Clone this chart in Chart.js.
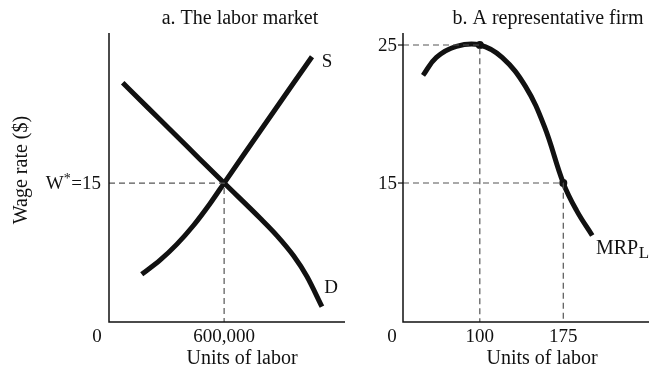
<!DOCTYPE html>
<html>
<head>
<meta charset="utf-8">
<script src="https://cdn.jsdelivr.net/npm/chart.js@4.4.1/dist/chart.umd.min.js"></script>
<style>
  html, body { margin: 0; padding: 0; background: #fff; overflow: hidden; }
  #wrap { position: relative; width: 653px; height: 372px; overflow: hidden; }
  #wrap canvas { position: absolute; left: 0; top: 0; }
</style>
</head>
<body>
<div id="wrap">
  <canvas id="market" width="653" height="372"></canvas>
  <canvas id="firm" width="653" height="372"></canvas>
</div>
<script>
// Panel a: labor market supply and demand
const supplyQty  = [170600, 266000, 353000, 440000, 527000, 600000, 701000, 788000, 875000, 962000, 1058000];
const supplyWage = [5.15, 6.68, 8.38, 10.42, 12.8, 15, 18.03, 20.62, 23.21, 25.8, 28.64];
const demandQty  = [71500, 205000, 339000, 470000, 600000, 788000, 875000, 962000, 1031000, 1110000];
const demandWage = [25.83, 23.09, 20.35, 17.66, 15, 11.2, 9.33, 7.15, 4.94, 1.65];
const eqQty = 600000;
const eqWage = 15;

// Panel b: marginal revenue product of labor for one firm
const firmQty = [49, 61, 79, 100, 120, 141, 158, 175, 187, 201];
const firmMrp = [22.8, 24.1, 24.9, 25, 24.1, 22, 19.1, 15, 13.0, 11.2];
const firmPeakQty = 100;
const firmPeakMrp = 25;
const firmHireQty = 175;

const FONT = '"Liberation Serif", "Times New Roman", serif';
const ink = '#111';
const dashCol = '#555';

function pts(xs, ys) {
  return xs.map((x, i) => ({ x: x, y: ys[i] }));
}

function curve(data, smooth) {
  const ds = {
    data: data,
    borderColor: ink,
    borderWidth: 5,
    pointRadius: 0,
    borderCapStyle: 'butt',
    fill: false,
    clip: false
  };
  if (smooth) ds.tension = 0.4;
  else ds.cubicInterpolationMode = 'monotone';
  return ds;
}

function guide(data) {
  return {
    data: data,
    borderColor: dashCol,
    borderWidth: 1.2,
    borderDash: [6, 4],
    pointRadius: 0,
    tension: 0,
    fill: false,
    clip: false
  };
}

function txt(ctx, s, x, y, align, size) {
  ctx.font = (size || 19) + 'px ' + FONT;
  ctx.textAlign = align || 'center';
  ctx.textBaseline = 'middle';
  ctx.fillStyle = ink;
  ctx.fillText(s, x, y);
}

// axes and labels are drawn by hand so the plot area can be placed exactly
const marketDecor = {
  id: 'marketDecor',
  afterDraw(chart) {
    const { ctx, chartArea: a, scales: { x, y } } = chart;
    ctx.save();
    ctx.strokeStyle = ink;
    ctx.lineWidth = 1.5;
    ctx.beginPath();
    ctx.moveTo(a.left, a.top);
    ctx.lineTo(a.left, a.bottom);
    ctx.lineTo(a.right, a.bottom);
    ctx.stroke();

    txt(ctx, 'a. The labor market', 240, 19, 'center', 20);
    txt(ctx, '0', 97, 337);
    txt(ctx, '600,000', x.getPixelForValue(eqQty), 337);
    txt(ctx, 'Units of labor', 242, 359, 'center', 20);

    // W* = 15 with a raised star
    const wy = y.getPixelForValue(eqWage);
    ctx.font = '19px ' + FONT;
    const rest = '=15';
    const wRest = ctx.measureText(rest).width;
    txt(ctx, rest, 101, wy + 1, 'right');
    txt(ctx, '*', 101 - wRest - 0.5, wy - 4, 'right', 14);
    ctx.font = '14px ' + FONT;
    const wStar = ctx.measureText('*').width;
    txt(ctx, 'W', 101 - wRest - wStar - 0.5, wy + 1, 'right');

    txt(ctx, 'S', 327, 62);
    txt(ctx, 'D', 331, 288);

    ctx.translate(22, 170);
    ctx.rotate(-Math.PI / 2);
    txt(ctx, 'Wage rate ($)', 0, 0, 'center', 20);
    ctx.restore();
  }
};

const firmDecor = {
  id: 'firmDecor',
  afterDraw(chart) {
    const { ctx, chartArea: a, scales: { x, y } } = chart;
    ctx.save();
    ctx.strokeStyle = ink;
    ctx.lineWidth = 1.5;
    ctx.beginPath();
    ctx.moveTo(a.left, a.top);
    ctx.lineTo(a.left, a.bottom);
    ctx.lineTo(a.right, a.bottom);
    ctx.stroke();

    // short ticks on the wage axis
    ctx.lineWidth = 1.2;
    [firmPeakMrp, eqWage].forEach(v => {
      const py = y.getPixelForValue(v);
      ctx.beginPath();
      ctx.moveTo(a.left - 5, py);
      ctx.lineTo(a.left, py);
      ctx.stroke();
      txt(ctx, String(v), a.left - 6, py + 1, 'right');
    });

    txt(ctx, 'b. A representative firm', 548, 19, 'center', 20);
    txt(ctx, '0', 392, 337);
    txt(ctx, String(firmPeakQty), x.getPixelForValue(firmPeakQty), 337);
    txt(ctx, String(firmHireQty), x.getPixelForValue(firmHireQty), 337);
    txt(ctx, 'Units of labor', 542, 359, 'center', 20);

    // MRP with subscript L, running off the right edge
    txt(ctx, 'MRP', 596, 249, 'left', 20);
    ctx.font = '20px ' + FONT;
    const w = ctx.measureText('MRP').width;
    txt(ctx, 'L', 596 + w + 0.5, 254, 'left', 17);
    ctx.restore();
  }
};

new Chart(document.getElementById('market'), {
  type: 'line',
  data: {
    datasets: [
      guide([{ x: 0, y: eqWage }, { x: eqQty, y: eqWage }, { x: eqQty, y: 0 }]),
      curve(pts(supplyQty, supplyWage)),
      curve(pts(demandQty, demandWage))
    ]
  },
  options: {
    responsive: false,
    animation: false,
    events: [],
    layout: { padding: { left: 109, right: 308, top: 33, bottom: 50 } },
    plugins: { legend: { display: false }, tooltip: { enabled: false } },
    scales: {
      x: { type: 'linear', min: 0, max: 1230000, display: false },
      y: { type: 'linear', min: 0, max: 31.2, display: false }
    }
  },
  plugins: [marketDecor]
});

new Chart(document.getElementById('firm'), {
  type: 'line',
  data: {
    datasets: [
      guide([{ x: 31, y: firmPeakMrp }, { x: firmPeakQty, y: firmPeakMrp }, { x: firmPeakQty, y: 4.93 }]),
      guide([{ x: 31, y: eqWage }, { x: firmHireQty, y: eqWage }, { x: firmHireQty, y: 4.93 }]),
      curve(pts(firmQty, firmMrp), true),
      {
        data: [{ x: firmPeakQty, y: firmPeakMrp }, { x: firmHireQty, y: eqWage }],
        showLine: false,
        pointRadius: 4,
        pointBackgroundColor: ink,
        pointBorderWidth: 0,
        clip: false
      }
    ]
  },
  options: {
    responsive: false,
    animation: false,
    events: [],
    layout: { padding: { left: 403, right: 0, top: 33, bottom: 50 } },
    plugins: { legend: { display: false }, tooltip: { enabled: false } },
    scales: {
      x: { type: 'linear', min: 31, max: 252, display: false },
      y: { type: 'linear', min: 4.93, max: 25.87, display: false }
    }
  },
  plugins: [firmDecor]
});
</script>
</body>
</html>
